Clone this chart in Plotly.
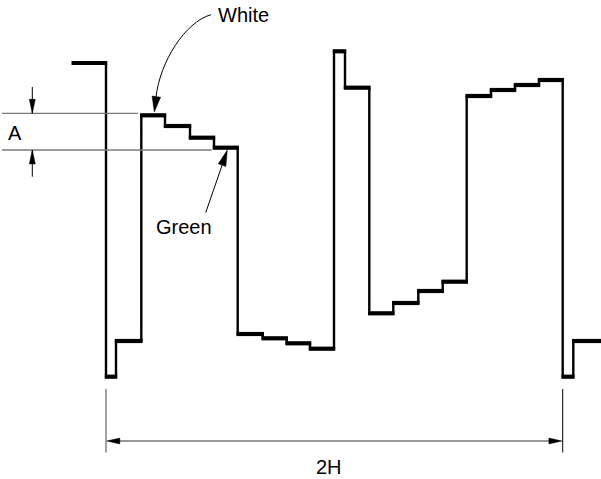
import math
import plotly.graph_objects as go

# ---- Waveform data (time breakpoints and signal levels, drawn on a screen-like scale: larger = lower) ----
edges = [72.7, 106, 116, 141.3, 165, 190, 214, 237.7, 262.7, 286.7, 310, 334,
         345, 369.3, 393.3, 418.3, 442.7, 466.7, 491, 515, 539, 562.7, 573.3, 601]
levels = [63, 376.7, 341, 115.3, 126, 137.7, 147.7, 334, 338.3, 343.3, 348.7, 51.3,
          87.7, 313.3, 303, 291, 281.7, 96, 90, 85, 80, 376.7, 341]

labels = {"white": "White", "green": "Green", "amp": "A", "period": "2H"}

W, H = 601, 479
INK = "#000000"
THIN = "#333333"
GREY = "#7a7a7a"
FONT = dict(family="Liberation Sans, Arial, sans-serif", size=20, color=INK)

fig = go.Figure()

# stepped waveform (thin vertical edges)
fig.add_trace(go.Scatter(
    x=edges, y=levels + [levels[-1]], mode="lines", line_shape="hv",
    line=dict(color=INK, width=2.4), hoverinfo="skip"))

# thicker horizontal plateaus
hx, hy = [], []
for i, lv in enumerate(levels):
    hx += [edges[i] - 1.2, edges[i + 1] + 1.2, None]
    hy += [lv, lv, None]
fig.add_trace(go.Scatter(x=hx, y=hy, mode="lines",
                         line=dict(color=INK, width=4.2), hoverinfo="skip"))

shapes = []


def line(x0, y0, x1, y1, color, width=1.0):
    shapes.append(dict(type="line", xref="x", yref="y", x0=x0, y0=y0, x1=x1, y1=y1,
                       line=dict(color=color, width=width), layer="above"))


def head(tip, frm, length=14, hw=3.0, color=INK):
    dx, dy = tip[0] - frm[0], tip[1] - frm[1]
    n = math.hypot(dx, dy)
    ux, uy = dx / n, dy / n
    bx, by = tip[0] - ux * length, tip[1] - uy * length
    px, py = -uy * hw, ux * hw
    path = (f"M {tip[0]},{tip[1]} L {bx + px},{by + py} "
            f"L {bx - px},{by - py} Z")
    shapes.append(dict(type="path", xref="x", yref="y", path=path,
                       fillcolor=color, line=dict(color=color, width=0.5), layer="above"))


# reference lines for amplitude A
white_y = levels[3] - 2
green_y = levels[6] + 2.3
line(2, white_y, 138, white_y, GREY, 1.2)
line(2, green_y, 211.7, green_y, GREY, 1.4)

# A arrows
ax_x = 32.3
line(ax_x, 87, ax_x, white_y, INK, 1.0)
head((ax_x, white_y), (ax_x, 87), 14, 3.0)
line(ax_x, 176.7, ax_x, green_y, INK, 1.0)
head((ax_x, green_y), (ax_x, 176.7), 14, 3.0)

# 2H dimension
left_x, right_x = edges[1], edges[21]
line(left_x, 389, left_x, 452.5, GREY, 1.4)
line(right_x, 389, right_x, 452.5, INK, 1.0)
dim_y = 441
line(left_x + 4, dim_y, right_x - 4, dim_y, THIN, 1.0)
head((left_x + 0.8, dim_y), (right_x, dim_y), 13, 2.9)
head((right_x - 0.8, dim_y), (left_x, dim_y), 13, 2.9)

# White curved arrow
p0, p1, p2, p3 = (211, 14.7), (185, 22), (160, 62), (156, 97)
shapes.append(dict(type="path", xref="x", yref="y",
                   path=f"M {p0[0]},{p0[1]} C {p1[0]},{p1[1]} {p2[0]},{p2[1]} {p3[0]},{p3[1]}",
                   line=dict(color=INK, width=1.0), layer="above"))
head((154.3, 112), (156.3, 97), 15.5, 4.3)

# Green straight arrow
g_tail, g_tip = (205.7, 212.7), (227.3, 150)
line(g_tail[0], g_tail[1], 222.5, 164, INK, 1.0)
head(g_tip, g_tail, 16, 4.0)

annotations = [
    dict(x=243.5, y=15, text=labels["white"]),
    dict(x=183.5, y=227, text=labels["green"]),
    dict(x=14.5, y=133, text=labels["amp"]),
    dict(x=329, y=467, text=labels["period"]),
]
for a in annotations:
    a.update(xref="x", yref="y", showarrow=False, font=FONT,
             xanchor="center", yanchor="middle")

fig.update_layout(
    width=W, height=H, margin=dict(l=0, r=0, t=0, b=0),
    paper_bgcolor="white", plot_bgcolor="white", showlegend=False,
    xaxis=dict(range=[0, W], visible=False, fixedrange=True),
    yaxis=dict(range=[H, 0], visible=False, fixedrange=True),
    shapes=shapes, annotations=annotations,
)

fig.write_html(
    "out.html",
    config={"displayModeBar": False, "staticPlot": True},
    post_script="document.body.style.margin='0';document.body.style.overflow='hidden';",
)
